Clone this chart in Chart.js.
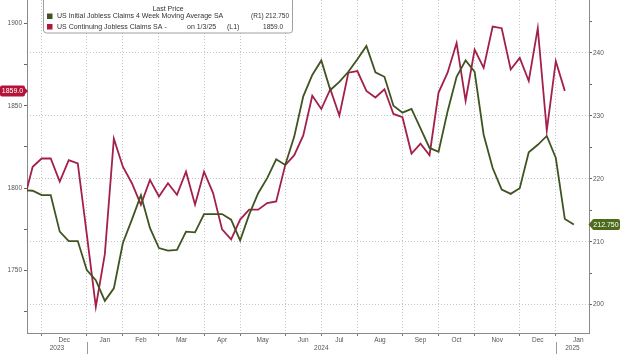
<!DOCTYPE html>
<html>
<head>
<meta charset="utf-8">
<script src="https://cdn.jsdelivr.net/npm/chart.js@4.4.0/dist/chart.umd.min.js"></script>
<style>
  html, body { margin: 0; padding: 0; background: #fff; }
</style>
</head>
<body>
<canvas id="chart" width="620" height="354"></canvas>
<script>
// Weekly data, week-ending dates (first one sits just left of the plot)
const weekEnding = [
  '2023-11-11', '2023-11-18', '2023-11-25',
  '2023-12-02', '2023-12-09', '2023-12-16', '2023-12-23', '2023-12-30',
  '2024-01-06', '2024-01-13', '2024-01-20', '2024-01-27',
  '2024-02-03', '2024-02-10', '2024-02-17', '2024-02-24',
  '2024-03-02', '2024-03-09', '2024-03-16', '2024-03-23', '2024-03-30',
  '2024-04-06', '2024-04-13', '2024-04-20', '2024-04-27',
  '2024-05-04', '2024-05-11', '2024-05-18', '2024-05-25',
  '2024-06-01', '2024-06-08', '2024-06-15', '2024-06-22', '2024-06-29',
  '2024-07-06', '2024-07-13', '2024-07-20', '2024-07-27',
  '2024-08-03', '2024-08-10', '2024-08-17', '2024-08-24', '2024-08-31',
  '2024-09-07', '2024-09-14', '2024-09-21', '2024-09-28',
  '2024-10-05', '2024-10-12', '2024-10-19', '2024-10-26',
  '2024-11-02', '2024-11-09', '2024-11-16', '2024-11-23', '2024-11-30',
  '2024-12-07', '2024-12-14', '2024-12-21', '2024-12-28',
  '2025-01-04', '2025-01-11'
];

// US Initial Jobless Claims 4 Week Moving Average SA (thousands, right axis)
const initialClaims4wk = [
  218.2, 218.1, 217.4, 217.4, 211.6, 210.1, 210.1, 205.5, 203.9, 200.6,
  202.6, 209.8, 213.5, 217.4, 212.2, 209.0, 208.6, 208.7, 211.6, 211.5,
  214.4, 214.4, 214.4, 213.5, 210.2, 214.3, 217.7, 220.1, 223.1, 222.2,
  226.7, 233.1, 236.5, 238.8, 234.1, 235.4, 237.0, 239.0, 241.1, 236.9,
  236.2, 231.6, 230.5, 231.1, 228.0, 224.9, 224.3, 230.7, 236.2, 238.8,
  237.0, 227.0, 221.7, 218.3, 217.6, 218.5, 224.2, 225.4, 226.8, 223.3,
  213.6, 212.75
];

// US Continuing Jobless Claims SA (thousands, left axis) - one week behind
const continuingClaims = [
  1792, 1813, 1818, 1818, 1804, 1817, 1815, 1772, 1728, 1760,
  1830, 1813, 1803, 1790, 1805, 1795, 1803, 1796, 1810, 1790,
  1810, 1797, 1775, 1769, 1781, 1787, 1787, 1791, 1792, 1814,
  1820, 1832, 1856, 1848, 1860, 1844, 1870, 1871, 1859, 1855,
  1860, 1845, 1843, 1821, 1827, 1820, 1858, 1870, 1888, 1853,
  1884, 1873, 1898, 1897, 1872, 1879, 1865, 1897, 1835, 1877,
  1859, null
];

const monthLabels = ['Dec', 'Jan', 'Feb', 'Mar', 'Apr', 'May', 'Jun', 'Jul', 'Aug', 'Sep', 'Oct', 'Nov', 'Dec', 'Jan'];
const monthStarts = [
  '2023-12-01', '2024-01-01', '2024-02-01', '2024-03-01', '2024-04-01', '2024-05-01', '2024-06-01',
  '2024-07-01', '2024-08-01', '2024-09-01', '2024-10-01', '2024-11-01', '2024-12-01', '2025-01-01', '2025-02-01'
];
const yearLabels = ['2023', '2024', '2025'];
const yearStarts = ['2024-01-01', '2025-01-01'];

const leftTicks = [1750, 1800, 1850, 1900];
const leftMinorTicks = [1725, 1775, 1825, 1875];
const rightTicks = [200, 210, 220, 230, 240];
const rightMinorTicks = [205, 215, 225, 235, 245];

const GREEN = '#3e5421';
const RED = '#a3204a';
const FONT = '"Liberation Sans", Arial, sans-serif';

// x in weeks from the second week (first one is clipped off)
const base = Date.parse(weekEnding[1]);
const weekPos = d => (Date.parse(d) - base) / (7 * 864e5);
// gridlines sit on the last weekly point before each month starts
const boundaries = monthStarts.map(d => Math.floor(weekPos(d)));
const yearBounds = yearStarts.map(d => Math.floor(weekPos(d)));

const xMin = -0.63, xMax = 61.68;

const decor = {
  id: 'decor',
  afterDraw(chart) {
    const { ctx, chartArea: ca, scales } = chart;
    const sx = scales.x, yL = scales.yL, yR = scales.yR;
    ctx.save();

    // month labels
    ctx.font = '6.5px ' + FONT;
    ctx.fillStyle = '#555';
    ctx.textAlign = 'center';
    ctx.textBaseline = 'middle';
    monthLabels.forEach((m, i) => {
      const px = sx.getPixelForValue((boundaries[i] + boundaries[i + 1]) / 2);
      ctx.fillText(m, px, 340);
    });

    // year labels + separators
    const edges = [ca.left].concat(yearBounds.map(v => sx.getPixelForValue(v)), [ca.right]);
    yearLabels.forEach((y, i) => ctx.fillText(y, (edges[i] + edges[i + 1]) / 2, 348.5));
    ctx.strokeStyle = '#999';
    ctx.lineWidth = 1;
    yearBounds.forEach(v => {
      const px = Math.round(sx.getPixelForValue(v)) + 0.5;
      ctx.beginPath(); ctx.moveTo(px, 342); ctx.lineTo(px, 354); ctx.stroke();
    });

    // last value tags
    const lastInit = initialClaims4wk[initialClaims4wk.length - 1];
    const lastCont = continuingClaims.filter(v => v !== null).slice(-1)[0];
    ctx.font = '7px ' + FONT;
    let cy = yL.getPixelForValue(lastCont);
    ctx.fillStyle = '#b5123a';
    ctx.beginPath();
    ctx.roundRect(0, cy - 5.5, 25, 11, 2);
    ctx.moveTo(25, cy - 3); ctx.lineTo(28, cy); ctx.lineTo(25, cy + 3);
    ctx.fill();
    ctx.fillStyle = '#fff';
    ctx.fillText(lastCont.toFixed(1), 12.5, cy + 0.5);

    cy = yR.getPixelForValue(lastInit);
    ctx.fillStyle = '#4d6b1c';
    ctx.beginPath();
    ctx.roundRect(592, cy - 5.5, 28, 11, 2);
    ctx.moveTo(592, cy - 4); ctx.lineTo(588.5, cy); ctx.lineTo(592, cy + 4);
    ctx.fill();
    ctx.fillStyle = '#fff';
    ctx.fillText(lastInit.toFixed(3), 606, cy + 0.5);

    // legend box
    ctx.fillStyle = '#fff';
    ctx.strokeStyle = '#a0a0a0';
    ctx.beginPath();
    ctx.roundRect(43.5, -5.5, 249, 38.5, 3);
    ctx.fill(); ctx.stroke();
    ctx.fillStyle = '#333';
    ctx.font = '7px ' + FONT;
    ctx.fillText('Last Price', 168, 9);
    ctx.fillStyle = GREEN; ctx.fillRect(47, 13.5, 5.5, 5.5);
    ctx.fillStyle = '#b0173a'; ctx.fillRect(47, 24, 5.5, 5.5);
    ctx.fillStyle = '#333';
    ctx.textAlign = 'left';
    ctx.fillText('US Initial Jobless Claims 4 Week Moving Average SA', 57, 16.5);
    ctx.fillText('US Continuing Jobless Claims SA -', 57, 27);
    ctx.fillText('on 1/3/25', 187, 27);
    ctx.fillText('(L1)', 227, 27);
    ctx.textAlign = 'right';
    ctx.font = '6.5px ' + FONT;
    ctx.fillText('(R1) ' + lastInit.toFixed(3), 289, 16.5);
    ctx.fillText(lastCont.toFixed(1), 283, 27);
    ctx.restore();
  }
};

new Chart(document.getElementById('chart').getContext('2d'), {
  type: 'line',
  data: {
    datasets: [{
      label: 'US Initial Jobless Claims 4 Week Moving Average SA',
      data: weekEnding.map((d, i) => ({ x: weekPos(d), y: initialClaims4wk[i] })),
      yAxisID: 'yR',
      borderColor: GREEN,
      borderWidth: 1.8,
      pointRadius: 0,
      tension: 0
    }, {
      label: 'US Continuing Jobless Claims SA',
      data: weekEnding.map((d, i) => ({ x: weekPos(d), y: continuingClaims[i] })),
      yAxisID: 'yL',
      borderColor: RED,
      borderWidth: 1.8,
      pointRadius: 0,
      tension: 0
    }]
  },
  options: {
    responsive: false,
    animation: false,
    devicePixelRatio: 1,
    layout: { padding: 0 },
    plugins: { legend: { display: false }, tooltip: { enabled: false } },
    scales: {
      x: {
        type: 'linear', min: xMin, max: xMax,
        afterBuildTicks: s => { s.ticks = boundaries.filter(b => b >= xMin && b <= xMax).map(v => ({ value: v })); },
        ticks: { display: false },
        grid: { color: '#c4c4c4', tickColor: '#777', tickLength: 3 },
        border: { color: '#8a8a8a', dash: [1, 2] },
        afterFit: s => { s.height = 21; s.paddingLeft = 0; s.paddingRight = 0; }
      },
      yL: {
        type: 'linear', position: 'left', min: 1712.2, max: 1914.1,
        afterBuildTicks: s => { s.ticks = leftTicks.concat(leftMinorTicks).sort((a, b) => a - b).map(v => ({ value: v })); },
        ticks: {
          autoSkip: false, padding: 2, color: '#555',
          font: { family: FONT, size: 6.5 },
          callback: v => leftTicks.includes(v) ? v : ''
        },
        grid: { drawOnChartArea: false, tickLength: 3, tickColor: '#666' },
        border: { color: '#8a8a8a' },
        afterFit: s => { s.width = 27; s.paddingTop = 0; s.paddingBottom = 0; }
      },
      yR: {
        type: 'linear', position: 'right', min: 195.5, max: 248.4,
        afterBuildTicks: s => { s.ticks = rightTicks.concat(rightMinorTicks).sort((a, b) => a - b).map(v => ({ value: v })); },
        ticks: {
          autoSkip: false, padding: 1, color: '#555',
          font: { family: FONT, size: 6.5 },
          callback: v => rightTicks.includes(v) ? v : ''
        },
        grid: {
          color: c => (c.tick && rightTicks.includes(c.tick.value)) ? '#c4c4c4' : 'rgba(0,0,0,0)',
          tickColor: '#666', tickLength: 3
        },
        border: { color: '#8a8a8a', dash: [1, 2] },
        afterFit: s => { s.width = 31; s.paddingTop = 0; s.paddingBottom = 0; }
      }
    }
  },
  plugins: [decor]
});
</script>
</body>
</html>
